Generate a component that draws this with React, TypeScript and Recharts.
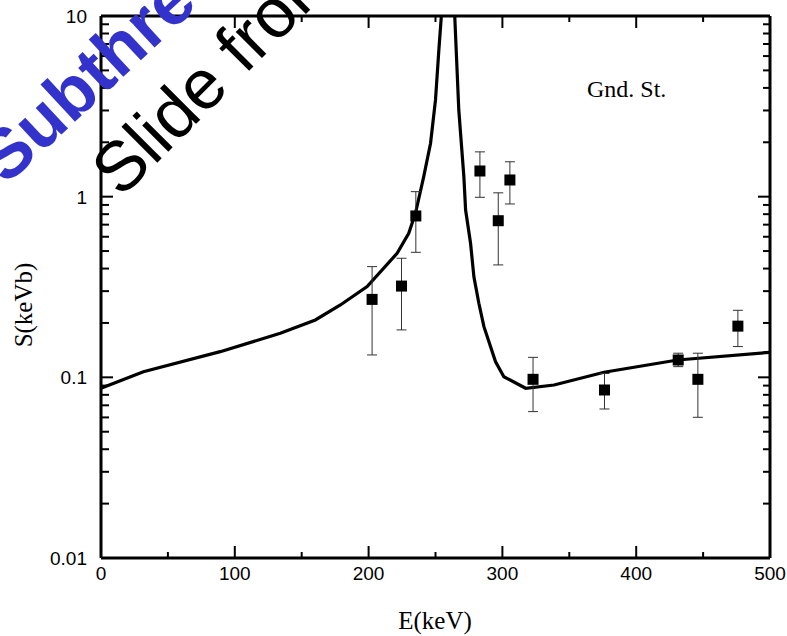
import React from "react";
import { ComposedChart, Line, Scatter, XAxis, YAxis, ErrorBar } from "recharts";

// Theory curve (E in keV, S in keV b)
const curveE = [0, 31.7, 89.1, 134, 160.2, 178.9, 198.9, 221.3, 230, 235, 241.2, 246.3, 250, 252.5, 254.5, 259.5, 264.4, 267.4, 271.2, 272.5, 276.2, 278.7, 282.4, 286.2, 294.9, 301.1, 317.4, 338.6, 376, 430.9, 500];
const curveS = [0.087, 0.1075, 0.1387, 0.1752, 0.2077, 0.2515, 0.3176, 0.486, 0.627, 0.809, 1.29, 1.975, 3.43, 6.48, 10.3, 100, 9.9, 3.02, 1.29, 0.844, 0.552, 0.36, 0.257, 0.1907, 0.122, 0.1008, 0.087, 0.0907, 0.1067, 0.1247, 0.1376];

// Data points
const ptE = [202.6, 224.6, 235.3, 283.2, 296.9, 305.6, 322.9, 376.3, 431.4, 446.1, 476.0];
const ptS = [0.27, 0.32, 0.782, 1.387, 0.736, 1.237, 0.0975, 0.0851, 0.1247, 0.0975, 0.192];
const ptLo = [0.133, 0.183, 0.492, 0.992, 0.419, 0.911, 0.0646, 0.0668, 0.1146, 0.0601, 0.148];
const ptHi = [0.41, 0.456, 1.066, 1.77, 1.05, 1.56, 0.129, 0.105, 0.136, 0.136, 0.235];

const xTicks = [0, 50, 100, 150, 200, 250, 300, 350, 400, 450, 500];
const xMajor = [0, 100, 200, 300, 400, 500];
const yTicks = [
  0.01, 0.02, 0.03, 0.04, 0.05, 0.06, 0.07, 0.08, 0.09,
  0.1, 0.2, 0.3, 0.4, 0.5, 0.6, 0.7, 0.8, 0.9,
  1, 2, 3, 4, 5, 6, 7, 8, 9, 10,
];
const yMajor = [0.01, 0.1, 1, 10];
const yMajorLabels = ["0.01", "0.1", "1", "10"];

const curveData = curveE.map((e, i) => ({ e, s: curveS[i] }));
const pointData = ptE.map((e, i) => ({ e, s: ptS[i], err: [ptS[i] - ptLo[i], ptHi[i] - ptS[i]] }));

const SANS = "'Liberation Sans', Arial, sans-serif";
const SERIF = "'Liberation Serif', 'Times New Roman', serif";

const isMajorY = (v: number) => yMajor.some((m) => Math.abs(m - v) / m < 1e-6);

const BottomTick = (props: any) => {
  const { x, y, payload } = props;
  const major = xMajor.includes(payload.value);
  return (
    <g>
      <line x1={x} x2={x} y1={y} y2={y - (major ? 12 : 6)} stroke="#000" strokeWidth={2} />
      {major && (
        <text x={x} y={y + 22} textAnchor="middle" fontFamily={SANS} fontSize={19} fill="#000">
          {payload.value}
        </text>
      )}
    </g>
  );
};

const TopTick = (props: any) => {
  const { x, y, payload } = props;
  const major = xMajor.includes(payload.value);
  return <line x1={x} x2={x} y1={y} y2={y + (major ? 12 : 6)} stroke="#000" strokeWidth={2} />;
};

const LeftTick = (props: any) => {
  const { x, y, payload } = props;
  const major = isMajorY(payload.value);
  const idx = yMajor.findIndex((m) => Math.abs(m - payload.value) / m < 1e-6);
  return (
    <g>
      <line x1={x} x2={x + (major ? 12 : 8)} y1={y} y2={y} stroke="#000" strokeWidth={2} />
      {major && (
        <text x={x - 14} y={y} dy="0.36em" textAnchor="end" fontFamily={SANS} fontSize={19} fill="#000">
          {yMajorLabels[idx]}
        </text>
      )}
    </g>
  );
};

const RightTick = (props: any) => {
  const { x, y, payload } = props;
  const major = isMajorY(payload.value);
  return <line x1={x} x2={x - (major ? 12 : 7)} y1={y} y2={y} stroke="#000" strokeWidth={2} />;
};

const SquareShape = (props: any) => {
  const { cx, cy } = props;
  return <rect x={cx - 5.5} y={cy - 5.5} width={11} height={11} fill="#000" />;
};

export default function App() {
  return (
    <div style={{ position: "absolute", left: 0, top: 0, width: 787, height: 636, background: "#fff" }}>
      <ComposedChart
        width={787}
        height={636}
        margin={{ top: 6, right: 7, bottom: 48, left: 41 }}
      >
        <XAxis
          xAxisId="b"
          dataKey="e"
          type="number"
          domain={[0, 500]}
          ticks={xTicks}
          allowDataOverflow
          height={30}
          tickSize={0}
          tickMargin={0}
          tickLine={false}
          tick={<BottomTick />}
          axisLine={{ stroke: "#000", strokeWidth: 3 }}
          interval={0}
        />
        <XAxis
          xAxisId="t"
          orientation="top"
          dataKey="e"
          type="number"
          domain={[0, 500]}
          ticks={xTicks}
          allowDataOverflow
          height={10}
          tickSize={0}
          tickMargin={0}
          tickLine={false}
          tick={<TopTick />}
          axisLine={{ stroke: "#000", strokeWidth: 3 }}
          interval={0}
        />
        <YAxis
          yAxisId="l"
          dataKey="s"
          type="number"
          scale="log"
          domain={[0.01, 10]}
          ticks={yTicks}
          allowDataOverflow
          width={60}
          tickSize={0}
          tickMargin={0}
          tickLine={false}
          tick={<LeftTick />}
          axisLine={{ stroke: "#000", strokeWidth: 3 }}
          interval={0}
        />
        <YAxis
          yAxisId="r"
          orientation="right"
          dataKey="s"
          type="number"
          scale="log"
          domain={[0.01, 10]}
          ticks={yTicks}
          allowDataOverflow
          width={10}
          tickSize={0}
          tickMargin={0}
          tickLine={false}
          tick={<RightTick />}
          axisLine={{ stroke: "#000", strokeWidth: 3 }}
          interval={0}
        />
        <Line
          xAxisId="b"
          yAxisId="l"
          data={curveData}
          dataKey="s"
          type="linear"
          stroke="#000"
          strokeWidth={3.2}
          dot={false}
          isAnimationActive={false}
        />
        <Scatter
          xAxisId="b"
          yAxisId="l"
          data={pointData}
          dataKey="s"
          shape={<SquareShape />}
          isAnimationActive={false}
        >
          <ErrorBar dataKey="err" direction="y" width={5} stroke="#333" strokeWidth={1} />
        </Scatter>
      </ComposedChart>
      <svg
        width={787}
        height={636}
        style={{ position: "absolute", left: 0, top: 0, pointerEvents: "none", overflow: "hidden" }}
      >
        <text x={587} y={97} fontFamily={SERIF} fontSize={24} fill="#000">Gnd. St.</text>
        <text x={435} y={629} textAnchor="middle" fontFamily={SERIF} fontSize={25} fill="#000">E(keV)</text>
        <text
          x={32}
          y={305}
          textAnchor="middle"
          fontFamily={SERIF}
          fontSize={25}
          fill="#000"
          transform="rotate(-90 32 305)"
        >
          S(keVb)
        </text>
        <text
          x={6}
          y={186}
          fontFamily={SANS}
          fontWeight="bold"
          fontSize={70}
          fill="#3333cc"
          transform="rotate(-43 6 186)"
        >
          Subthreshold
        </text>
        <text
          x={121}
          y={199}
          fontFamily={SANS}
          fontSize={70}
          fill="#000"
          transform="rotate(-45 121 199)"
        >
          Slide from
        </text>
      </svg>
    </div>
  );
}
